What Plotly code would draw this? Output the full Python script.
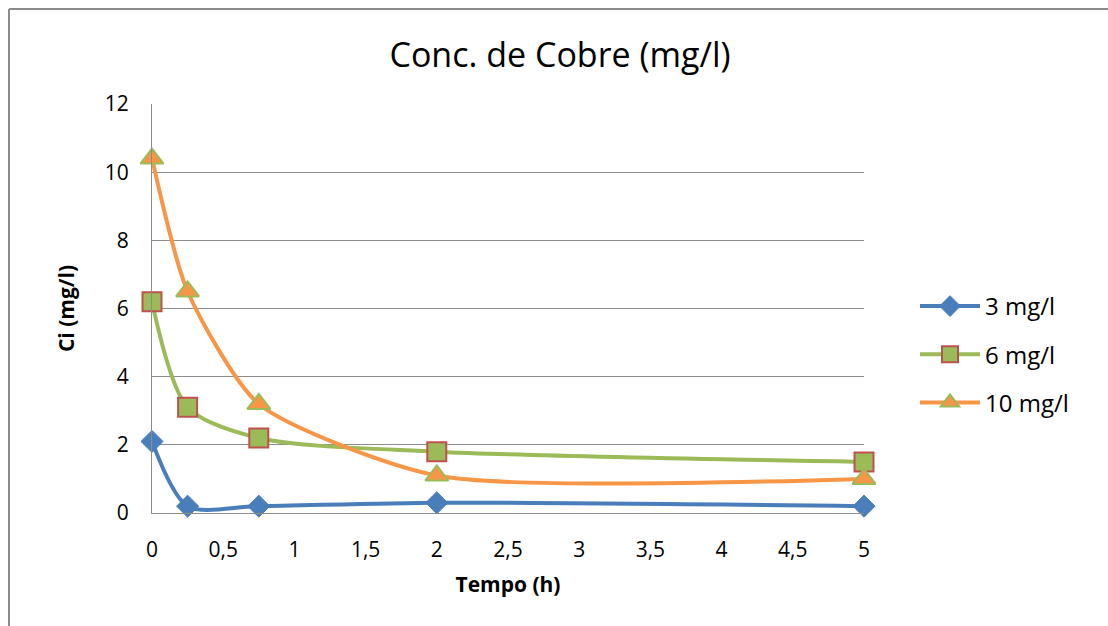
import plotly.graph_objects as go

tempo = [0, 0.25, 0.75, 2, 5]
s3 = [2.1, 0.2, 0.2, 0.3, 0.2]
s6 = [6.2, 3.1, 2.2, 1.8, 1.5]
s10 = [10.4, 6.5, 3.2, 1.1, 1.0]
names = ["3 mg/l", "6 mg/l", "10 mg/l"]
xtick_vals = [0, 0.5, 1, 1.5, 2, 2.5, 3, 3.5, 4, 4.5, 5]
xtick_text = ["0", "0,5", "1", "1,5", "2", "2,5", "3", "3,5", "4", "4,5", "5"]
ytick_vals = [0, 2, 4, 6, 8, 10, 12]

W, H = 1108, 626
L, R, T, B = 152, 1108 - 864, 104, 626 - 513
FONT = "Open Sans"

fig = go.Figure()
fig.add_trace(go.Scatter(
    x=tempo, y=s3, name=names[0], mode="lines+markers", legendgroup="a",
    line=dict(color="#4a7ebb", width=4, shape="spline", smoothing=0.8),
    marker=dict(symbol="diamond", size=17, color="#4a7ebb", line=dict(color="#4a7ebb", width=1)),
    cliponaxis=False))
fig.add_trace(go.Scatter(
    x=tempo, y=s6, name=names[1], mode="lines+markers", legendgroup="b",
    line=dict(color="#9bbb59", width=4, shape="spline", smoothing=0.8),
    marker=dict(symbol="square", size=19, color="#9bbb59", line=dict(color="#c0504d", width=2)),
    cliponaxis=False))
fig.add_trace(go.Scatter(
    x=tempo, y=s10, name=names[2], mode="lines+markers", legendgroup="c",
    line=dict(color="#f79646", width=4, shape="spline", smoothing=0.65),
    marker=dict(symbol="triangle-up", size=20, color="#f79646", line=dict(color="#9bbb59", width=2)),
    cliponaxis=False))

pw = W - L - R
ph = H - T - B
fx = lambda px: (px - L) / pw
fy = lambda py: (H - B - py) / ph

fig.add_shape(type="line", xref="paper", yref="paper",
              x0=fx(9), x1=fx(1108), y0=fy(9), y1=fy(9),
              line=dict(color="#8c8c8c", width=2))
fig.add_shape(type="line", xref="paper", yref="paper",
              x0=fx(9), x1=fx(9), y0=fy(9), y1=fy(626),
              line=dict(color="#8c8c8c", width=2))

fig.update_layout(
    width=W, height=H,
    margin=dict(l=L, r=R, t=T, b=B, autoexpand=False),
    paper_bgcolor="white", plot_bgcolor="white",
    font=dict(family=FONT, color="#000000", size=21),
    title=dict(text="Conc. de Cobre (mg/l)", x=560 / W, xanchor="center",
               y=1 - 55 / H, yanchor="middle",
               font=dict(family=FONT, size=34, color="#000000")),
    xaxis=dict(range=[0, 5], tickvals=xtick_vals, ticktext=xtick_text,
               showgrid=False, zeroline=False, showline=True, linecolor="#8c8c8c",
               linewidth=1, ticks="", ticklabelstandoff=18,
               title=dict(text="<b>Tempo (h)</b>", font=dict(size=21), standoff=15),
               tickfont=dict(size=21)),
    yaxis=dict(range=[0, 12], tickvals=ytick_vals, showgrid=True, gridcolor="#8c8c8c",
               gridwidth=1, zeroline=False, showline=True, linecolor="#8c8c8c",
               linewidth=1, ticks="", ticklabelstandoff=18,
               title=dict(text="<b>Ci (mg/l)</b>", font=dict(size=21), standoff=24),
               tickfont=dict(size=21)),
    legend=dict(x=fx(915), xanchor="left", y=fy(284), yanchor="top",
                font=dict(size=24), itemwidth=60, tracegroupgap=14,
                traceorder="grouped",
                bgcolor="rgba(0,0,0,0)"),
    showlegend=True,
)

fig.write_html("out.html")
